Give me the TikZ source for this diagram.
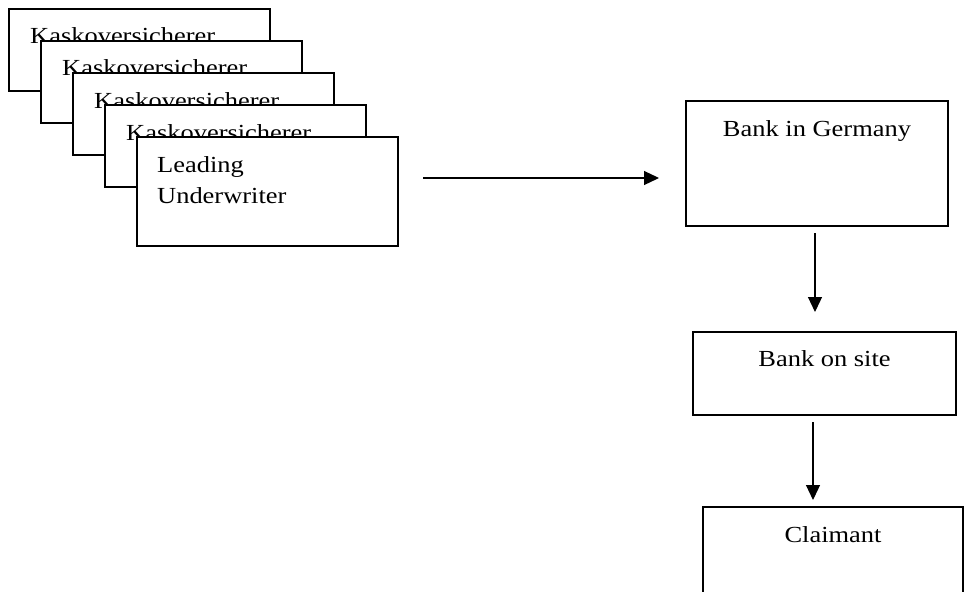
\documentclass[tikz,border=0pt]{standalone}
\usepackage{fontspec}
\newfontfamily\boxfont{Liberation Serif}[FakeStretch=1.15]
\usetikzlibrary{arrows.meta,positioning,calc}

\begin{document}
\begin{tikzpicture}[
  x=1pt, y=1pt,
  card/.style={
    draw=black, fill=white, line width=1.5pt, outer sep=0pt, inner sep=0pt,
    anchor=north west, minimum width=261pt, minimum height=82pt
  },
  txt/.style={inner sep=0pt, font=\boxfont\fontsize{23}{31}\selectfont},
  arr/.style={-{Triangle[length=15pt,width=14pt]}, line width=1.2pt}
]
  \useasboundingbox (0,0) rectangle (965,-591);
  \clip (0,0) rectangle (965,-591);
  \foreach \i in {0,...,3}{
    \node[card] (k\i) at (9+32*\i,-9-32*\i) {};
    \node[txt, anchor=base west] at ([xshift=21pt,yshift=-35pt]k\i.north west) {Kaskoversicherer};
  }
  \node[card, minimum height=109pt] (lead) at (137,-137) {};
  \node[txt, anchor=north west, align=left] at ([xshift=20pt,yshift=-19pt]lead.north west) {Leading\\Underwriter};

  \node[card, minimum width=262pt, minimum height=125pt] (bg) at (686,-101) {};
  \node[txt, anchor=base] at ([yshift=-35pt]bg.north) {Bank in Germany};
  \node[card, minimum width=263pt, minimum height=83pt] (bos) at (693,-332) {};
  \node[txt, anchor=base] at ([yshift=-34pt]bos.north) {Bank on site};
  \node[card, minimum width=260pt, minimum height=100pt] (cl) at (703,-507) {};
  \node[txt, anchor=base] at ([yshift=-35pt]cl.north) {Claimant};

  \draw[arr] ($(lead.east |- 0,-178)+(25,0)$) -- ($(bg.west |- 0,-178)+(-27,0)$);
  \draw[arr] ($(bg.south)+(-2,-7)$) -- ($(bg.south |- bos.north)+(-2,20)$);
  \draw[arr] ($(bos.south)+(-11.5,-7)$) -- ($(bos.south |- cl.north)+(-11.5,7)$);
\end{tikzpicture}
\end{document}
